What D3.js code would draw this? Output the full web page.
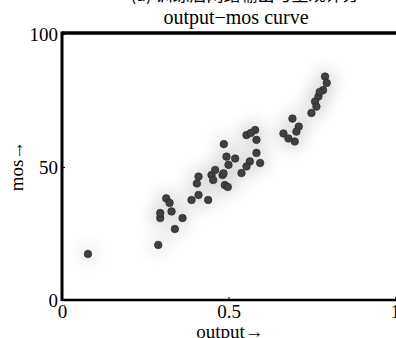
<!DOCTYPE html>
<meta charset="utf-8">
<style>
    body { margin: 0; background: #fff; }
    text { font-family: "Liberation Serif", "DejaVu Serif", serif; fill: #000; }
    .tick text { font-size: 19px; }
</style>
<body>
<script src="https://d3js.org/d3.v7.min.js"></script>
<script>
// network output vs. subjective score (mos)
var output = [0.078, 0.289, 0.339, 0.362, 0.295, 0.295, 0.329, 0.313, 0.323, 0.389,
              0.410, 0.405, 0.410, 0.439, 0.449, 0.460, 0.454, 0.489, 0.498, 0.494,
              0.500, 0.520, 0.482, 0.486, 0.485, 0.554, 0.580, 0.584, 0.567, 0.584,
              0.595, 0.564, 0.554, 0.539, 0.790, 0.795, 0.784, 0.770, 0.760, 0.764,
              0.749, 0.774, 0.692, 0.711, 0.704, 0.665, 0.680, 0.699];
var mos    = [17.3, 20.7, 26.7, 30.8, 30.8, 32.7, 33.3, 38.2, 36.5, 37.6,
              39.5, 43.8, 46.4, 37.6, 47.0, 48.9, 45.1, 43.2, 42.5, 53.9,
              50.8, 53.2, 47.0, 58.6, 47.6, 62.0, 63.9, 60.2, 62.8, 55.3,
              51.5, 52.1, 50.2, 47.7, 84.0, 81.6, 78.9, 76.5, 74.6, 72.7,
              70.3, 78.2, 68.2, 65.2, 63.3, 62.6, 60.7, 59.6];
var xTicks = [0, 0.5, 1];
var yTicks = [0, 50, 100];

var W = 396, H = 338;
var svg = d3.select("body").append("svg").attr("width", W).attr("height", H);

var x = d3.scaleLinear().domain([0, 1]).range([62, 395]);
var y = d3.scaleLinear().domain([0, 100]).range([300, 34]);

var pts = output.map((v, i) => ({x: v, y: mos[i]}));

// caption cut off at the top of the original figure
svg.append("text")
    .attr("x", 245).attr("y", 1)
    .attr("text-anchor", "middle")
    .style("font-family", "'Noto Sans CJK SC', sans-serif")
    .style("font-size", "17px")
    .text("(a) 训练后网络输出与主观评分");

svg.append("text")
    .attr("x", 236).attr("y", 24)
    .attr("text-anchor", "middle")
    .style("font-size", "20px")
    .text("output\u2212mos curve");

// faint grey haze around the points
var defs = svg.append("defs");
defs.append("filter").attr("id", "haze")
    .attr("x", "-50%").attr("y", "-50%").attr("width", "200%").attr("height", "200%")
    .append("feGaussianBlur").attr("stdDeviation", 7);

svg.append("g").attr("filter", "url(#haze)")
    .selectAll("circle").data(pts).join("circle")
    .attr("cx", d => x(d.x)).attr("cy", d => y(d.y))
    .attr("r", 12)
    .attr("fill", "#d0d0d0")
    .attr("fill-opacity", 0.28);

svg.append("g")
    .selectAll("circle").data(pts).join("circle")
    .attr("cx", d => x(d.x)).attr("cy", d => y(d.y))
    .attr("r", 3.8)
    .attr("fill", "#404040")
    .attr("stroke", "#222")
    .attr("stroke-width", 0.6);

// axes
var xAxis = svg.append("g").attr("transform", "translate(0,300)")
    .call(d3.axisBottom(x).tickValues(xTicks).tickFormat(d3.format("")).tickSize(-3).tickPadding(4));
var yAxis = svg.append("g").attr("transform", "translate(62,0)")
    .call(d3.axisLeft(y).tickValues(yTicks).tickSize(-3).tickPadding(4));

xAxis.select(".domain").remove();
yAxis.select(".domain").remove();
xAxis.selectAll(".tick text").attr("dy", "0.75em");

svg.append("line").attr("x1", 62).attr("x2", 400).attr("y1", 300).attr("y2", 300)
    .attr("stroke", "#000").attr("stroke-width", 2.5);
svg.append("line").attr("x1", 62).attr("x2", 400).attr("y1", 33).attr("y2", 33)
    .attr("stroke", "#000").attr("stroke-width", 3.5);
svg.append("line").attr("x1", 62).attr("x2", 62).attr("y1", 31.5).attr("y2", 301)
    .attr("stroke", "#000").attr("stroke-width", 3);

svg.append("text")
    .attr("x", 230).attr("y", 338)
    .attr("text-anchor", "middle")
    .style("font-size", "19px")
    .text("output\u2192");

svg.append("text")
    .attr("transform", "translate(23,166) rotate(-90)")
    .attr("text-anchor", "middle")
    .style("font-size", "19px")
    .text("mos\u2192");
</script>
</body>
